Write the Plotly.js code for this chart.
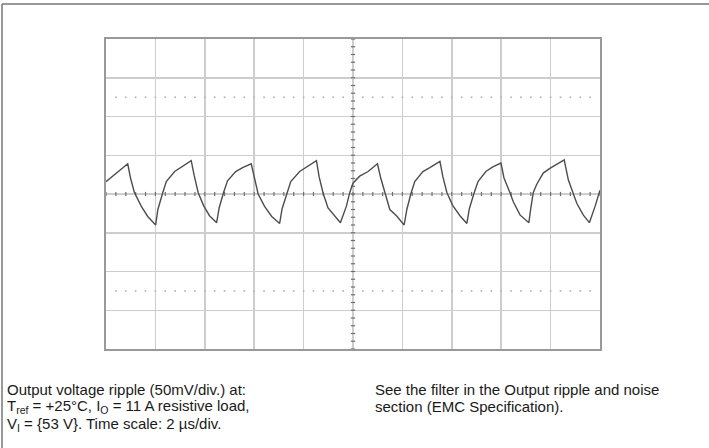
<!DOCTYPE html>
<html>
<head>
<meta charset="utf-8">
<script src="https://cdn.plot.ly/plotly-3.0.1.min.js"></script>
<style>
html,body{margin:0;padding:0;background:#fff;}
#chart{width:709px;height:448px;}
</style>
</head>
<body>
<div id="chart"></div>
<script>
// Time axis (µs), 2 µs/div, 10 divisions
var timeUs = [0,0.34,0.63,0.88,0.99,1.15,1.43,1.69,2.01,2.10,2.30,2.44,2.78,3.05,3.45,3.57,3.73,3.95,4.19,4.48,
  4.58,4.76,4.92,5.25,5.53,5.88,6.00,6.16,6.42,6.71,7.03,7.13,7.32,7.48,7.84,8.13,8.52,8.63,8.79,8.99,
  9.26,9.49,9.73,9.87,10.00,10.27,10.61,10.99,11.12,11.29,11.49,11.76,12.07,12.18,12.34,12.50,12.83,13.11,13.52,13.64,
  13.80,14.04,14.33,14.61,14.71,14.89,15.06,15.38,15.66,15.99,16.11,16.35,16.49,16.76,17.12,17.20,17.30,17.43,17.70,17.97,
  18.55,18.72,18.89,19.06,19.32,19.57,19.80,20.00];
// Output ripple (mV), 50 mV/div
var rippleMv = [16,25,33,39,21,2,-16,-29,-40,-20,2,16,29,35,43,24,2,-15,-28,-37,
  -18,2,17,29,34,39,21,0,-16,-29,-38,-19,0,16,29,35,43,22,1,-18,
  -29,-37,-16,2,14,23,29,39,21,2,-20,-28,-40,-20,0,16,29,34,42,22,
  2,-15,-28,-38,-19,0,16,29,35,40,21,2,-10,-27,-37,-18,2,12,27,33,
  44,18,2,-12,-27,-37,-16,5];

var xRange = [0,20], yRange = [-200,200];
var xDiv = 2, yDiv = 50;
var dottedLevels = [-125,125];

var traces = [];
// center axis tick marks (decorative scope graticule)
var tx=[],ty=[];
for(var i=0;i<=50;i++){tx.push(i*xDiv/5);ty.push(0);}
traces.push({x:tx,y:ty,mode:'markers',type:'scatter',hoverinfo:'skip',
  marker:{symbol:'line-ns-open',size:3,color:'#6e6e6e',line:{color:'#6e6e6e',width:1.2}}});
var vx=[],vy=[];
for(var j=0;j<=40;j++){vx.push(10);vy.push(-200+j*yDiv/5);}
traces.push({x:vx,y:vy,mode:'markers',type:'scatter',hoverinfo:'skip',
  marker:{symbol:'line-ew-open',size:3,color:'#6e6e6e',line:{color:'#6e6e6e',width:1.2}}});
// dotted graticule rows
dottedLevels.forEach(function(lv){
  var dx=[],dy=[];
  for(var k=1;k<50;k++){dx.push(k*xDiv/5);dy.push(lv);}
  traces.push({x:dx,y:dy,mode:'markers',type:'scatter',hoverinfo:'skip',
    marker:{symbol:'circle',size:2,color:'#b8b8b8',line:{width:0}}});
});
// waveform
traces.push({x:timeUs,y:rippleMv,mode:'lines',type:'scatter',
  line:{color:'#4d4d4d',width:1.4}});

var L=106,R=109,T=39,B=99,W=709,H=448;
var pw=W-L-R, ph=H-T-B;
function px(x){return (x-L)/pw;}
function py(y){return 1-(y-T)/ph;}

var fnt={family:'"Liberation Sans", Arial, Helvetica, sans-serif',size:15,color:'#1a1a1a'};
function ann(text,x,y){return {text:text,xref:'paper',yref:'paper',x:px(x),y:py(y),
  xanchor:'left',yanchor:'middle',showarrow:false,font:fnt,align:'left'};}

var layout = {
  width:W,height:H,margin:{l:L,r:R,t:T,b:B},
  paper_bgcolor:'#fff',plot_bgcolor:'#fff',showlegend:false,
  xaxis:{range:xRange,dtick:xDiv,tick0:0,showgrid:true,gridcolor:'#cdcdcd',gridwidth:1.5,
    zeroline:false,showticklabels:false,ticks:'',showline:true,mirror:true,linecolor:'#999',linewidth:2,fixedrange:true},
  yaxis:{range:yRange,dtick:yDiv,tick0:0,showgrid:true,gridcolor:'#cdcdcd',gridwidth:1.5,
    zeroline:false,showticklabels:false,ticks:'',showline:true,mirror:true,linecolor:'#999',linewidth:2,fixedrange:true},
  shapes:[
    {type:'line',xref:'x',yref:'y',x0:10,x1:10,y0:-200,y1:200,line:{color:'#888',width:1.5},layer:'below'},
    {type:'line',xref:'x',yref:'y',x0:0,x1:20,y0:0,y1:0,line:{color:'#888',width:1.5},layer:'below'},
    {type:'line',xref:'paper',yref:'paper',x0:px(2),x1:px(709),y0:py(4),y1:py(4),line:{color:'#777',width:1.5}},
    {type:'line',xref:'paper',yref:'paper',x0:px(2),x1:px(2),y0:py(4),y1:py(448),line:{color:'#777',width:1.5}}
  ],
  annotations:[
    ann('Output voltage ripple (50mV/div.) at:',5,389),
    ann('T<sub>ref</sub> = +25°C, I<sub>O</sub> = 11 A resistive load,',5,406),
    ann('V<sub>I</sub> = {53 V}. Time scale: 2 µs/div.',5,424),
    ann('See the filter in the Output ripple and noise',373,389),
    ann('section (EMC Specification).',373,406)
  ]
};
Plotly.newPlot('chart',traces,layout,{staticPlot:true,displayModeBar:false});
</script>
</body>
</html>
